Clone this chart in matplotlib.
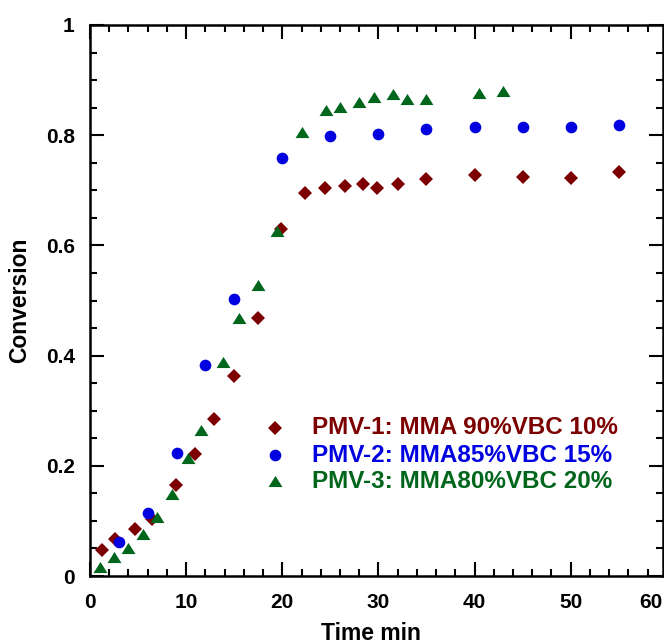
import numpy as np
import matplotlib
matplotlib.use('Agg')
import matplotlib.pyplot as plt
from matplotlib.ticker import MultipleLocator

plt.rcParams['font.family'] = ['Liberation Sans', 'DejaVu Sans']
plt.rcParams['font.weight'] = 'bold'

### Data
# PMV-1: MMA 90% / VBC 10%
time_1 = [1.2, 2.6, 4.7, 6.4, 8.9, 10.9, 12.9, 15.0, 17.5, 19.9, 22.4, 24.4,
          26.5, 28.4, 29.9, 32.0, 35.0, 40.0, 45.0, 50.0, 55.0]
conv_1 = [0.047, 0.067, 0.085, 0.103, 0.165, 0.221, 0.285, 0.363, 0.469, 0.629,
          0.695, 0.705, 0.708, 0.711, 0.705, 0.711, 0.720, 0.728, 0.725, 0.722, 0.734]

# PMV-2: MMA 85% / VBC 15%
time_2 = [3.0, 6.0, 9.0, 12.0, 15.0, 20.0, 25.0, 30.0, 35.0, 40.0, 45.0, 50.0, 55.0]
conv_2 = [0.062, 0.114, 0.223, 0.383, 0.503, 0.759, 0.799, 0.803, 0.811, 0.814,
          0.815, 0.815, 0.819]

# PMV-3: MMA 80% / VBC 20%
time_3 = [1.0, 2.5, 4.0, 5.5, 7.0, 8.5, 10.2, 11.5, 13.8, 15.5, 17.5, 19.5, 22.0,
          24.5, 26.0, 28.0, 29.5, 31.5, 33.0, 35.0, 40.5, 43.0]
conv_3 = [0.017, 0.035, 0.050, 0.076, 0.107, 0.149, 0.215, 0.265, 0.388, 0.468,
          0.528, 0.627, 0.806, 0.846, 0.852, 0.861, 0.869, 0.875, 0.865, 0.865,
          0.877, 0.881]

labels = ['PMV-1: MMA 90%VBC 10%', 'PMV-2: MMA85%VBC 15%', 'PMV-3: MMA80%VBC 20%']
colors = ['#7d0000', '#0000e0', '#00661c']

# flattened triangle marker
tri = [(0, 0.8), (-1, -0.8), (1, -0.8), (0, 0.8)]
markers = ['D', 'o', tri]
sizes = [7.4, 8.4, 10.0]

fig = plt.figure(figsize=(6.64, 6.44), dpi=100)
ax = fig.add_axes([90 / 664, 68 / 644, 573 / 664, 551 / 644])

series = [(time_1, conv_1), (time_2, conv_2), (time_3, conv_3)]
for (t, c), col, mk, ms in zip(series, colors, markers, sizes):
    ax.plot(t, c, linestyle='none', marker=mk, markersize=ms,
            color=col, markeredgewidth=0)

ax.set_xlim(0, 59.6)
ax.set_ylim(0, 1)
ax.set_xticks([0, 10, 20, 30, 40, 50])
ax.set_yticks([0, 0.2, 0.4, 0.6, 0.8, 1.0])
ax.set_yticklabels(['0', '0.2', '0.4', '0.6', '0.8', '1'])
ax.xaxis.set_minor_locator(MultipleLocator(2))
ax.yaxis.set_minor_locator(MultipleLocator(0.05))
ax.tick_params(which='both', direction='in', top=True, right=True,
               width=1.5, labelsize=15)
ax.tick_params(which='major', length=10)
ax.tick_params(which='minor', length=5)
ax.tick_params(axis='x', pad=12)
ax.tick_params(axis='y', pad=11)
for sp in ax.spines.values():
    sp.set_linewidth(1.8)

# last x tick label sits at the right edge of the frame
ax.text(1.0, -17 / 551, '60', transform=ax.transAxes, ha='right', va='top',
        fontsize=15, fontweight='bold')

ax.set_xlabel('Time min', fontsize=16.5, fontweight='bold')
ax.set_ylabel('Conversion', fontsize=16.5, fontweight='bold')
ax.xaxis.set_label_coords(0.49, -46 / 551)
ax.yaxis.set_label_coords(-59 / 573, 0.5)

# legend drawn by hand to match the tight row spacing
rows = [428, 455, 481]
for lab, col, mk, ms, ry in zip(labels, colors, markers, sizes, rows):
    yy = (576 - ry) / 551
    ax.plot([(275 - 90) / 573], [yy], transform=ax.transAxes, linestyle='none',
            marker=mk, markersize=ms, color=col, markeredgewidth=0, clip_on=False)
    ax.text((312 - 90) / 573, yy, lab, transform=ax.transAxes, ha='left',
            va='center', fontsize=17.5, fontweight='bold', color=col)

fig.savefig('out.png', dpi=100)
